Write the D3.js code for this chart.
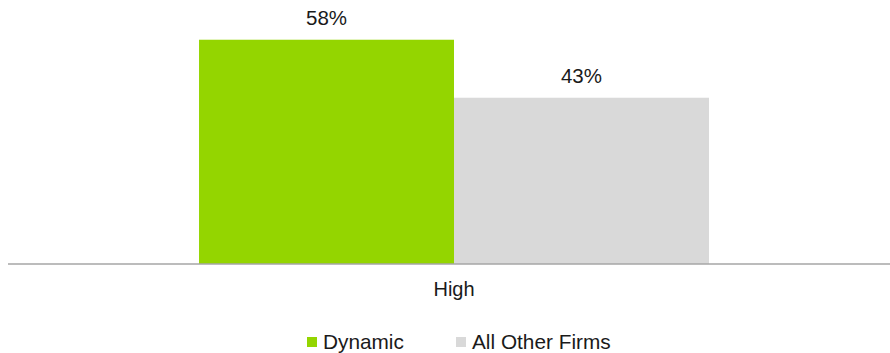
<!DOCTYPE html>
<html>
<head>
<meta charset="utf-8">
<script src="https://cdnjs.cloudflare.com/ajax/libs/d3/7.8.5/d3.min.js"></script>
<style>
  html, body { margin: 0; padding: 0; background: #fff; }
  svg { display: block; font-family: "Liberation Sans", Arial, sans-serif; }
</style>
</head>
<body>
<svg id="chart" width="890" height="353"></svg>
<script>
// Share of firms rated "High", by firm group
const categories = ["High"];
const seriesNames = ["Dynamic", "All Other Firms"];
const dynamicValues = [0.58];
const otherValues = [0.43];
const seriesColors = ["#94D500", "#D9D9D9"];

const svg = d3.select("#chart");
const baseY = 264;

const x0 = d3.scaleBand()
  .domain(categories)
  .range([18, 890])
  .paddingInner(0)
  .paddingOuter(0.355);

const x1 = d3.scaleBand()
  .domain(seriesNames)
  .range([0, x0.bandwidth()])
  .padding(0);

const y = d3.scaleLinear()
  .domain([0, 0.6])
  .range([baseY, 32]);

const rows = categories.map((c, i) => ({
  category: c,
  values: [
    { key: seriesNames[0], value: dynamicValues[i], color: seriesColors[0] },
    { key: seriesNames[1], value: otherValues[i], color: seriesColors[1] }
  ]
}));

const fmt = d3.format(".0%");

const groups = svg.selectAll("g.cat")
  .data(rows)
  .join("g")
  .attr("class", "cat")
  .attr("transform", d => `translate(${x0(d.category)},0)`);

groups.selectAll("rect")
  .data(d => d.values)
  .join("rect")
  .attr("x", d => x1(d.key))
  .attr("y", d => y(d.value))
  .attr("width", x1.bandwidth())
  .attr("height", d => y(0) - y(d.value))
  .attr("fill", d => d.color);

groups.selectAll("text.val")
  .data(d => d.values)
  .join("text")
  .attr("class", "val")
  .attr("x", d => x1(d.key) + x1.bandwidth() / 2)
  .attr("y", d => y(d.value) - 15)
  .attr("text-anchor", "middle")
  .attr("font-size", 20.5)
  .attr("fill", "#1a1a1a")
  .text(d => fmt(d.value));

// category axis along the baseline
const xAxis = svg.append("g")
  .attr("transform", `translate(0,${baseY})`)
  .call(d3.axisBottom(x0).tickSize(0).tickPadding(0));
xAxis.select(".domain").remove();
xAxis.selectAll("text")
  .attr("font-size", 20)
  .attr("fill", "#1a1a1a")
  .attr("font-family", "Liberation Sans, Arial, sans-serif")
  .attr("dy", null)
  .attr("y", 32);

svg.append("line")
  .attr("x1", 8).attr("x2", 890)
  .attr("y1", baseY).attr("y2", baseY)
  .attr("stroke", "#A6A6A6")
  .attr("stroke-width", 1.5);

// legend
const legendItems = [
  { name: seriesNames[0], color: seriesColors[0], x: 307 },
  { name: seriesNames[1], color: seriesColors[1], x: 456 }
];
const legend = svg.append("g");
const li = legend.selectAll("g")
  .data(legendItems)
  .join("g")
  .attr("transform", d => `translate(${d.x},337)`);
li.append("rect")
  .attr("width", 10).attr("height", 10)
  .attr("fill", d => d.color);
li.append("text")
  .attr("x", 16)
  .attr("y", 12)
  .attr("font-size", 20.8)
  .attr("fill", "#1a1a1a")
  .text(d => d.name);
</script>
</body>
</html>
